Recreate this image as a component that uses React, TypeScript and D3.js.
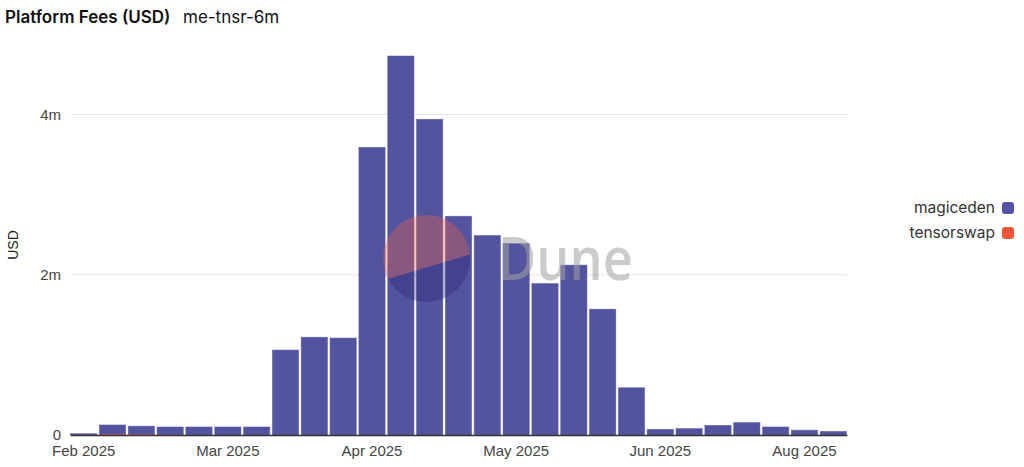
import * as d3 from "d3";
import { useEffect, useRef } from "react";

// weekly buckets (week start)
const weeks = [
  "2025-02-10", "2025-02-17", "2025-02-24", "2025-03-03", "2025-03-10", "2025-03-17",
  "2025-03-24", "2025-03-31", "2025-04-07", "2025-04-14", "2025-04-21", "2025-04-28",
  "2025-05-05", "2025-05-12", "2025-05-19", "2025-05-26", "2025-06-02", "2025-06-09",
  "2025-06-16", "2025-06-23", "2025-06-30", "2025-07-07", "2025-07-14", "2025-07-21",
  "2025-07-28", "2025-08-04", "2025-08-11",
];
const tickEvery = 5;

const magiceden = [
  15000, 113000, 100000, 95000, 100000, 100000, 100000, 1060000, 1220000, 1210000,
  3590000, 4730000, 3940000, 2730000, 2490000, 2390000, 1890000, 2120000, 1570000,
  590000, 70000, 80000, 120000, 155000, 100000, 60000, 45000,
];
const tensorswap = [
  2000, 12000, 10000, 5000, 0, 0, 0, 0, 0, 0,
  0, 0, 0, 0, 0, 0, 0, 0, 0,
  0, 0, 0, 0, 0, 0, 0, 0,
];

const seriesNames = ["magiceden", "tensorswap"];
const seriesColors = ["#5354a0", "#f0553a"];
const yTicks = [0, 2000000, 4000000];
const yTickLabels = ["0", "2m", "4m"];

const W = 1024;
const H = 467;
const axisFont = "Liberation Sans, Arial, sans-serif";

export default function App() {
  const xAxisRef = useRef<SVGGElement>(null);

  const x = d3.scaleBand<string>().domain(weeks).range([70, 847]).paddingInner(0.09).paddingOuter(0.02);
  const y = d3.scaleLinear().domain([0, 4000000]).range([435, 114.5]);
  const fmt = d3.timeFormat("%b %Y");
  const parse = d3.timeParse("%Y-%m-%d");

  const rows = weeks.map((w, i) => ({ week: w, tensorswap: tensorswap[i], magiceden: magiceden[i] }));
  const stack = d3.stack<any>().keys(["tensorswap", "magiceden"])(rows);

  useEffect(() => {
    if (!xAxisRef.current) return;
    const g = d3.select(xAxisRef.current);
    g.selectAll("*").remove();
    const axis = d3.axisBottom(x)
      .tickValues(weeks.filter((_, i) => i % tickEvery === 0))
      .tickFormat(d => fmt(parse(d) as Date))
      .tickSize(0)
      .tickPadding(10);
    g.call(axis);
    g.select(".domain").attr("stroke", "#333").attr("stroke-width", 1.5);
    g.selectAll("text")
      .attr("font-family", axisFont)
      .attr("font-size", 15)
      .attr("fill", "#444");
  }, []);

  const cx = 426.5, cy = 258.5, r = 43.5;

  return (
    <svg width={W} height={H} style={{ position: "absolute", left: 0, top: 0 }}>
      <rect width={W} height={H} fill="#fff" />
      <text x={5} y={23} fontFamily="Inter, sans-serif" fontWeight={600} fontSize={17} fill="#111">
        Platform Fees (USD)
      </text>
      <text x={183} y={23} fontFamily="Inter, sans-serif" fontSize={17} fill="#111">
        me-tnsr-6m
      </text>

      {/* grid + y ticks */}
      {yTicks.map((t, i) => (
        <g key={t}>
          {t > 0 && <line x1={71} x2={847} y1={y(t)} y2={y(t)} stroke="#e4e4ec" strokeWidth={1} />}
          <text x={61} y={y(t)} dy="0.35em" textAnchor="end" fontFamily={axisFont} fontSize={15} fill="#444">
            {yTickLabels[i]}
          </text>
        </g>
      ))}
      <text transform={`translate(18,245) rotate(-90)`} textAnchor="middle"
        fontFamily={axisFont} fontSize={14} fill="#222">
        USD
      </text>

      {/* bars */}
      {stack.map(layer => {
        const color = layer.key === "magiceden" ? seriesColors[0] : seriesColors[1];
        return (
          <g key={layer.key} fill={color}>
            {layer.map((d, i) => {
              const h = y(d[0]) - y(d[1]);
              if (h <= 0) return null;
              return (
                <rect key={i} x={x(weeks[i])} y={y(d[1])} width={x.bandwidth()} height={h}
                  stroke={color} strokeOpacity={0.6} strokeWidth={0.8} />
              );
            })}
          </g>
        );
      })}

      <g ref={xAxisRef} transform="translate(0,435)" />

      {/* watermark */}
      <defs>
        <clipPath id="wm-top">
          <polygon points={`${cx - 60},${cy + 27} ${cx + 60},${cy - 9} ${cx + 60},${cy - 60} ${cx - 60},${cy - 60}`} />
        </clipPath>
        <clipPath id="wm-bottom">
          <polygon points={`${cx - 60},${cy + 27} ${cx + 60},${cy - 9} ${cx + 60},${cy + 60} ${cx - 60},${cy + 60}`} />
        </clipPath>
      </defs>
      <circle cx={cx} cy={cy} r={r} fill="#f2603e" fillOpacity={0.35} clipPath="url(#wm-top)" />
      <circle cx={cx} cy={cy} r={r} fill="#1e1a6a" fillOpacity={0.3} clipPath="url(#wm-bottom)" />
      <text x={498} y={280} fontFamily="Open Sans, sans-serif" fontWeight={600} fontSize={60}
        textLength={135} lengthAdjust="spacingAndGlyphs" fill="#a0a0a0" fillOpacity={0.55}>
        Dune
      </text>

      {/* legend */}
      {seriesNames.map((n, i) => (
        <g key={n} transform={`translate(0,${208 + i * 25})`}>
          <text x={995} dy="0.35em" textAnchor="end" fontFamily="Inter, sans-serif" fontSize={15.5} fill="#333">
            {n}
          </text>
          <rect x={1002} y={-6} width={12} height={12} rx={3} fill={seriesColors[i]} />
        </g>
      ))}
    </svg>
  );
}
